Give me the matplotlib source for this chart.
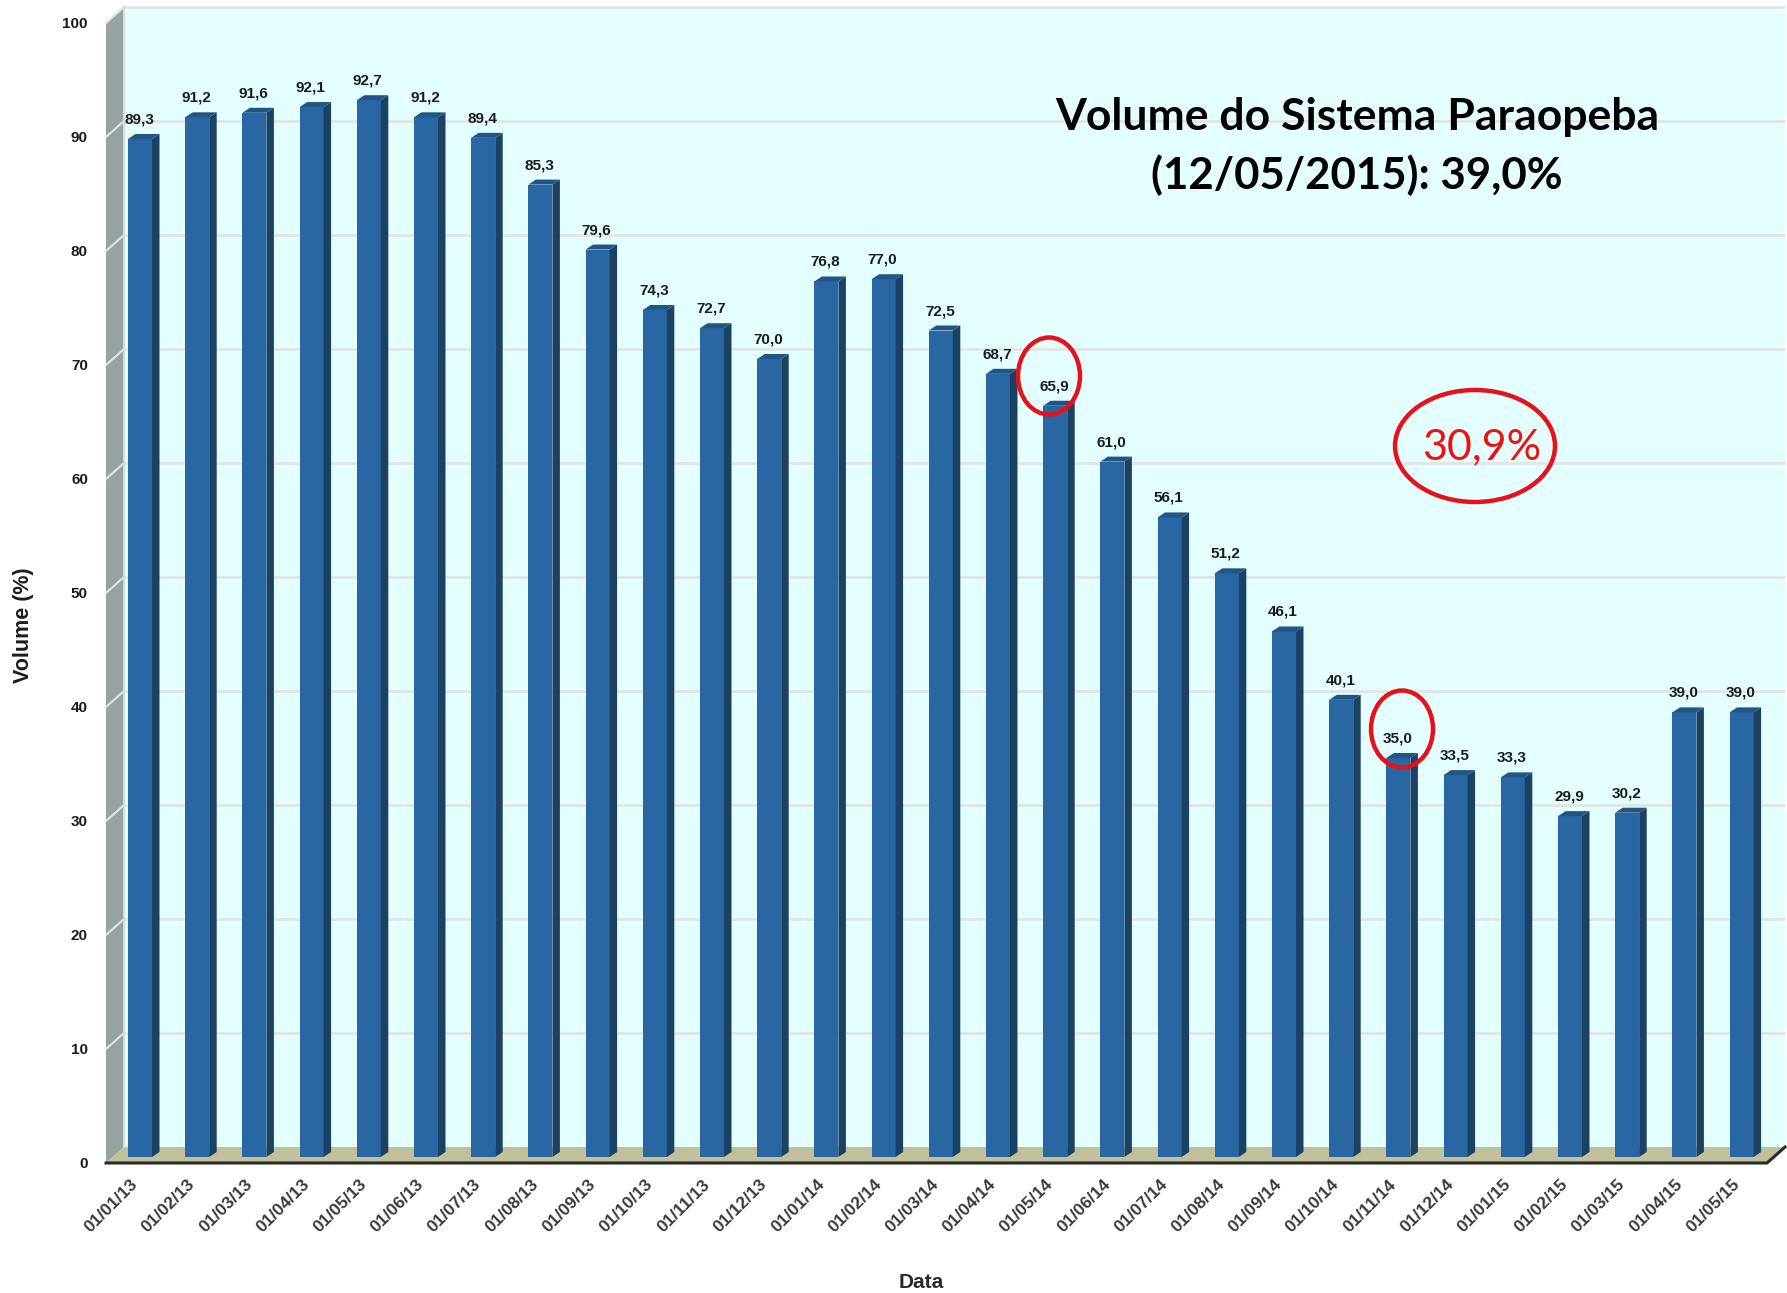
import matplotlib
matplotlib.use('Agg')
import matplotlib.pyplot as plt
from matplotlib.patches import Polygon, Ellipse
from matplotlib.transforms import ScaledTranslation

W, H = 1787, 1293

dates = ['01/01/13', '01/02/13', '01/03/13', '01/04/13', '01/05/13', '01/06/13',
         '01/07/13', '01/08/13', '01/09/13', '01/10/13', '01/11/13', '01/12/13',
         '01/01/14', '01/02/14', '01/03/14', '01/04/14', '01/05/14', '01/06/14',
         '01/07/14', '01/08/14', '01/09/14', '01/10/14', '01/11/14', '01/12/14',
         '01/01/15', '01/02/15', '01/03/15', '01/04/15', '01/05/15']
volume = [89.3, 91.2, 91.6, 92.1, 92.7, 91.2, 89.4, 85.3, 79.6, 74.3, 72.7, 70.0,
          76.8, 77.0, 72.5, 68.7, 65.9, 61.0, 56.1, 51.2, 46.1, 40.1, 35.0, 33.5,
          33.3, 29.9, 30.2, 39.0, 39.0]
y_ticks = [0, 10, 20, 30, 40, 50, 60, 70, 80, 90, 100]

FRONT, SIDE, CAP = '#2967a4', '#1b4263', '#215584'
WALL, FLOOR, BACK = '#95a3a2', '#c2c09a', '#e3ffff'
GRID = '#e2e5e3'
LABEL_FONT = 'Liberation Sans'

# pixel scale of the front plane
left, right, top, bottom = 106, 1767, 23, 1163
px_x = 57.2      # px per category
px_y = 11.4      # px per %
first = 140      # px centre of the first bar

fig = plt.figure(figsize=(W / 100, H / 100), dpi=100, facecolor='white')
ax = fig.add_axes([left / W, 1 - bottom / H, (right - left) / W, (bottom - top) / H])
ax.set_xlim((left - first) / px_x, (right - first) / px_x)
ax.set_ylim(0, 100)
ax.patch.set_visible(False)
for s in ax.spines.values():
    s.set_visible(False)

# depth of the box and of the bars
box_x, box_y = 18 / px_x, 16 / px_y
bar_x, bar_y = 7.5 / px_x, 5 / px_y
base = 6 / px_y
x0, x1 = ax.get_xlim()


def poly(pts, color, z, **kw):
    ax.add_patch(Polygon(pts, closed=True, facecolor=color, edgecolor='none',
                         zorder=z, clip_on=False, **kw))


poly([(x0 + box_x, box_y), (x1 + box_x, box_y), (x1 + box_x, 100 + box_y),
      (x0 + box_x, 100 + box_y)], BACK, 1)
poly([(x0, 0), (x0 + box_x, box_y), (x0 + box_x, 100 + box_y), (x0, 100)], WALL, 2)
poly([(x0, 0), (x1, 0), (x1 + box_x, box_y), (x0 + box_x, box_y)], FLOOR, 2)

for v in y_ticks[1:]:
    ax.plot([x0 + box_x, x1 + box_x], [v + box_y, v + box_y], color=GRID, lw=2,
            zorder=3, clip_on=False, solid_capstyle='butt')
    ax.plot([x0, x0 + box_x], [v, v + box_y], color=GRID, lw=1.5, zorder=3, clip_on=False)
ax.plot([x0 + box_x, x0 + box_x], [box_y, 100 + box_y], color='#d5dcdc', lw=1.5,
        zorder=3, clip_on=False)
ax.plot([x0, x1, x1 + box_x], [0, 0, box_y], color='#2b2b26', lw=2.2, zorder=8,
        clip_on=False, solid_joinstyle='miter')

# bars
w = 24 / px_x
xs = list(range(len(volume)))
ax.bar(xs, volume, width=w, bottom=base, color=FRONT, zorder=5, linewidth=0)
for x, v in zip(xs, volume):
    r, l = x + w / 2, x - w / 2
    t = v + base
    poly([(r, base), (r + bar_x, base + bar_y), (r + bar_x, t + bar_y), (r, t)], SIDE, 5)
    poly([(l, t), (l + bar_x, t + bar_y), (r + bar_x, t + bar_y), (r, t)], CAP, 5)
    ax.text(x - 1 / px_x, t + bar_y + 14.5 / px_y, f'{v:.1f}'.replace('.', ','),
            ha='center', va='center', fontsize=11, fontweight='bold',
            family=LABEL_FONT, color='#1c1c1c', zorder=7)

ax.set_yticks(y_ticks)
ax.set_xticks(xs)
ax.set_xticklabels(dates, rotation=45, ha='right', va='top', rotation_mode='anchor',
                   fontsize=12.5, fontweight='bold', family=LABEL_FONT, color='#3a3a3a')
ax.set_yticklabels([str(v) for v in y_ticks], fontsize=11, fontweight='bold',
                   family=LABEL_FONT, color='#1c1c1c')
ax.tick_params(axis='y', length=0, pad=13)
ax.tick_params(axis='x', length=0, pad=10)
# rotated labels sit to the left of their bars in the original
shift = ScaledTranslation(-10 / 100, 0, fig.dpi_scale_trans)
for lab in ax.get_xticklabels():
    lab.set_transform(lab.get_transform() + shift)

fig.text(23 / W, 1 - 625 / H, 'Volume (%)', rotation=90, ha='center', va='center',
         fontsize=15.5, fontweight='bold', family=LABEL_FONT, color='#1c1c1c')
fig.text(921 / W, 1 - 1283 / H, 'Data', ha='center', va='center',
         fontsize=15, fontweight='bold', family=LABEL_FONT, color='#2a2a2a')

# overlay added on the slide
fig.text(1357 / W, 1 - 117 / H, 'Volume do Sistema Paraopeba', ha='center', va='center',
         fontsize=32, fontweight='bold', family='Lato', color='black', zorder=10)
fig.text(1357 / W, 1 - 175 / H, '(12/05/2015): 39,0%', ha='center', va='center',
         fontsize=31.5, fontweight='bold', family='Lato', color='black', zorder=10)
fig.text(1482 / W, 1 - 447 / H, '30,9%', ha='center', va='center',
         fontsize=31, family='Lato', color='#ee1111', zorder=10)
for cx, cy, ew, eh in [(1475, 446, 160, 112), (1049, 376, 62, 77), (1402, 729, 62, 77)]:
    fig.add_artist(Ellipse((cx / W, 1 - cy / H), ew / W, eh / H, transform=fig.transFigure,
                           fill=False, edgecolor='#e8101a', lw=3.2, zorder=10))

fig.savefig('out.png', dpi=100, facecolor='white')
